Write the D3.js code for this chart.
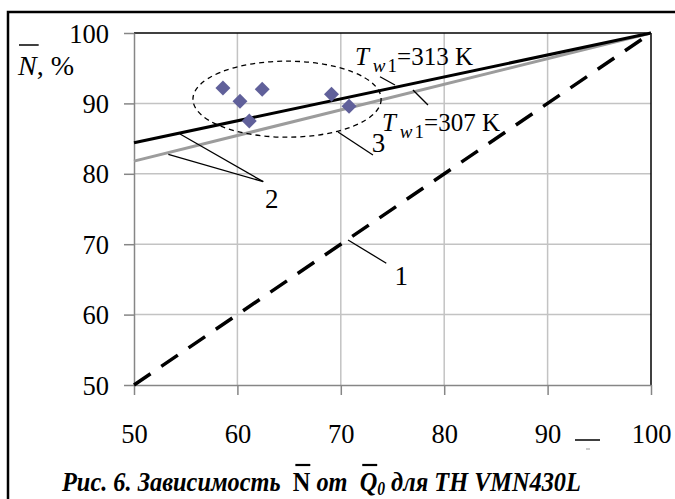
<!DOCTYPE html>
<html>
<head>
<meta charset="utf-8">
<script src="https://cdn.jsdelivr.net/npm/d3@7"></script>
<style>
  body { margin: 0; background: #fff; }
  svg { display: block; }
  text { font-family: "Liberation Serif", "Times New Roman", serif; fill: #000; white-space: pre; }
</style>
</head>
<body>
<div id="chart-area"></div>
<script>
// tick values
const xTicks = [50, 60, 70, 80, 90, 100];
const yTicks = [50, 60, 70, 80, 90, 100];

// line series (two end points each, Q0 values in lineQ)
const lineQ = [50, 100];
const line1 = [50, 100];      // 1 - dashed
const line313 = [84.4, 100];  // 2 - Tw1 = 313 K
const line307 = [81.8, 100];  // 2 - Tw1 = 307 K

// experimental points (3)
const pointQ = [58.6, 60.25, 62.4, 61.15, 69.1, 70.8];
const pointN = [92.2, 90.3, 92.0, 87.5, 91.3, 89.6];

const W = 675, H = 499;
const margin = {left: 134, right: 24, top: 33, bottom: 114};
const width = W - margin.left - margin.right;
const height = H - margin.top - margin.bottom;

const root = d3.select("#chart-area")
  .append("svg")
  .attr("width", W)
  .attr("height", H);

// outer frame
root.append("rect")
  .attr("x", 8).attr("y", 12)
  .attr("width", 720).attr("height", 600)
  .attr("fill", "none")
  .attr("stroke", "#000")
  .attr("stroke-width", 2.5);

let svg = root.append("g")
  .attr("transform", `translate(${margin.left}, ${margin.top})`);

let x = d3.scaleLinear().domain([50, 100]).range([0, width]);
let y = d3.scaleLinear().domain([50, 100]).range([height, 0]);

// grid
svg.selectAll(".vgrid").data(xTicks.slice(1, -1)).enter().append("line")
  .attr("x1", d => x(d)).attr("x2", d => x(d))
  .attr("y1", 0).attr("y2", height)
  .attr("stroke", "#c3c3c3").attr("stroke-width", 1.5);
svg.selectAll(".hgrid").data(yTicks.slice(1, -1)).enter().append("line")
  .attr("y1", d => y(d)).attr("y2", d => y(d))
  .attr("x1", 0).attr("x2", width)
  .attr("stroke", "#c3c3c3").attr("stroke-width", 1.5);

// plot border top / right
svg.append("line").attr("x1", 0).attr("x2", width).attr("y1", 0).attr("y2", 0)
  .attr("stroke", "#000").attr("stroke-width", 1.5);
svg.append("line").attr("x1", width).attr("x2", width).attr("y1", 0).attr("y2", height)
  .attr("stroke", "#000").attr("stroke-width", 1.5);

// axes
let xAxis = d3.axisBottom(x).tickValues(xTicks).tickSize(10).tickSizeOuter(0).tickPadding(29.5);
let gx = svg.append("g")
  .attr("transform", "translate(0," + height + ")")
  .call(xAxis);
let yAxis = d3.axisLeft(y).tickValues(yTicks).tickSize(10).tickSizeOuter(0).tickPadding(15);
let gy = svg.append("g").call(yAxis);
[gx, gy].forEach(g => {
  g.select(".domain").attr("stroke", "#868686").attr("stroke-width", 1.5);
  g.selectAll(".tick line").attr("stroke", "#868686").attr("stroke-width", 1.5);
  g.selectAll(".tick text")
    .attr("font-family", '"Liberation Serif", "Times New Roman", serif')
    .attr("font-size", "26.5px")
    .attr("fill", "#000");
});
gy.selectAll(".tick text").attr("dy", "0.34em");

const line = d3.line().x((d, i) => x(lineQ[i])).y(d => y(d));

svg.append("path").datum(line1).attr("d", line)
  .attr("fill", "none").attr("stroke", "#000").attr("stroke-width", 3.5)
  .attr("stroke-dasharray", "20,13");
svg.append("path").datum(line307).attr("d", line)
  .attr("fill", "none").attr("stroke", "#9c9c9c").attr("stroke-width", 3);
svg.append("path").datum(line313).attr("d", line)
  .attr("fill", "none").attr("stroke", "#000").attr("stroke-width", 3);

// dashed ellipse around points
svg.append("ellipse")
  .attr("cx", x(64.8)).attr("cy", y(90.6))
  .attr("rx", x(64.8 + 9.1) - x(64.8)).attr("ry", y(90.6) - y(96.0))
  .attr("fill", "none").attr("stroke", "#000").attr("stroke-width", 1.3)
  .attr("stroke-dasharray", "5,4");

// points
svg.selectAll(".pt").data(pointQ).enter().append("path")
  .attr("d", d3.symbol(d3.symbolSquare, 112))
  .attr("transform", (d, i) => `translate(${x(d)},${y(pointN[i])}) rotate(45)`)
  .attr("fill", "#60609a");

// leaders
const leaders = [
  [[70.7, 70.6], [74.4, 67.3]],
  [[54.45, 85.65], [62.5, 78.88]],
  [[53.32, 82.77], [62.5, 78.88]],
  [[69.73, 85.94], [73.11, 82.67]],
  [[73.79, 93.79], [75.24, 92.61]],
  [[76.98, 91.9], [78.43, 89.77]]
];
svg.selectAll(".leader").data(leaders).enter().append("line")
  .attr("x1", d => x(d[0][0])).attr("y1", d => y(d[0][1]))
  .attr("x2", d => x(d[1][0])).attr("y2", d => y(d[1][1]))
  .attr("stroke", "#000").attr("stroke-width", 1.3);

// number labels
[["1", 75.2, 64.2], ["2", 62.67, 75.14], ["3", 73.0, 83.1]].forEach(d => {
  svg.append("text").attr("x", x(d[1])).attr("y", y(d[2]))
    .attr("font-size", "27px").text(d[0]);
});

// temperature labels
[["313", 71.37, 95.45], ["307", 73.98, 86.08]].forEach(d => {
  let t = svg.append("text").attr("x", x(d[1])).attr("y", y(d[2]))
    .attr("font-size", "25px");
  t.append("tspan").attr("font-style", "italic").text("T");
  t.append("tspan").attr("font-style", "italic").attr("font-size", "19px").attr("dx", 4).attr("dy", 7).text("w");
  t.append("tspan").attr("font-size", "19px").attr("dx", 2).text("1");
  t.append("tspan").attr("dy", -7).text("=" + d[0] + " K");
});

// y axis title
let yt = root.append("text").attr("x", 18).attr("y", 75).attr("font-size", "28px");
yt.append("tspan").attr("font-style", "italic").text("N");
yt.append("tspan").text(", %");
let nb = yt.node().getExtentOfChar(0);
root.append("line").attr("x1", nb.x + 1).attr("x2", nb.x + nb.width + 2)
  .attr("y1", 45).attr("y2", 45).attr("stroke", "#000").attr("stroke-width", 1.5);

// x axis title remnant (overline)
root.append("line").attr("x1", 575).attr("x2", 600).attr("y1", 440).attr("y2", 440)
  .attr("stroke", "#000").attr("stroke-width", 1.5);
root.append("line").attr("x1", 586).attr("x2", 590).attr("y1", 449).attr("y2", 449)
  .attr("stroke", "#999").attr("stroke-width", 1);

// caption (condensed to the reference width)
let capG = root.append("g");
let cap = capG.append("text").attr("x", 0).attr("y", 491)
  .attr("font-size", "28px").attr("font-weight", "bold").attr("font-style", "italic");
const capA = "Рис. 6. Зависимость  ";
const capB = " от  ";
cap.append("tspan").text(capA);
cap.append("tspan").attr("font-style", "normal").text("N");
cap.append("tspan").text(capB);
cap.append("tspan").text("Q");
cap.append("tspan").attr("font-size", "18px").attr("dy", 4).text("0");
cap.append("tspan").attr("dy", -4).text(" для ТН VMN430L");
const capW = cap.node().getBBox().width;
capG.attr("transform", `translate(62,0) scale(${520 / capW},1)`);
[capA.length, capA.length + 1 + capB.length].forEach(i => {
  let b = cap.node().getExtentOfChar(i);
  capG.append("line")
    .attr("x1", b.x + 3).attr("x2", b.x + b.width)
    .attr("y1", 465).attr("y2", 465)
    .attr("stroke", "#000").attr("stroke-width", 2.2);
});
</script>
</body>
</html>
